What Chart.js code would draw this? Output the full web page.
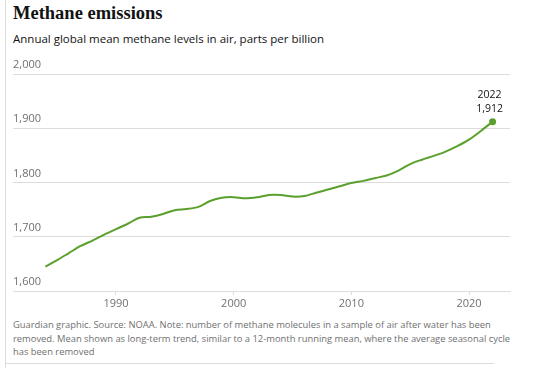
<!DOCTYPE html>
<html>
<head>
<meta charset="utf-8">
<script src="https://cdn.jsdelivr.net/npm/chart.js@4"></script>
<style>
  body { margin: 0; width: 538px; height: 368px; position: relative; background: #fff; overflow: hidden; font-family: "Open Sans", sans-serif; }
  #edge { position: absolute; left: 5px; top: 0; width: 1px; height: 368px; background: #dcdcdc; }
  #title { position: absolute; left: 13px; top: 3px; font: bold 18.5px "Liberation Serif", serif; color: #121212; }
  #sub { position: absolute; left: 13px; top: 31px; font-size: 11.5px; color: #121212; white-space: nowrap; }
  #wrap { position: absolute; left: 0; top: 55px; width: 538px; height: 260px; }
  #foot { position: absolute; left: 13px; top: 318px; font-size: 9.4px; line-height: 13.5px; color: #707070; white-space: nowrap; }
  #rule { position: absolute; left: 5px; top: 363px; width: 489px; height: 1px; background: #dcdcdc; }
</style>
</head>
<body>
<div id="edge"></div>
<div id="title">Methane emissions</div>
<div id="sub">Annual global mean methane levels in air, parts per billion</div>
<div id="wrap"><canvas id="methaneChart"></canvas></div>
<div id="foot">Guardian graphic. Source: NOAA. Note: number of methane molecules in a sample of air after water has been<br>removed. Mean shown as long-term trend, similar to a 12-month running mean, where the average seasonal cycle<br>has been removed</div>
<div id="rule"></div>
<script>
// annual means (ppb)
const years = [1984, 1985, 1986, 1987, 1988, 1989, 1990, 1991, 1992, 1993,
  1994, 1995, 1996, 1997, 1998, 1999, 2000, 2001, 2002, 2003,
  2004, 2005, 2006, 2007, 2008, 2009, 2010, 2011, 2012, 2013,
  2014, 2015, 2016, 2017, 2018, 2019, 2020, 2021, 2022];
const methane = [1645, 1657, 1670, 1683, 1693, 1704, 1714, 1724, 1735, 1737,
  1742, 1749, 1751, 1755, 1766, 1772, 1773, 1771, 1773, 1777,
  1777, 1774, 1775, 1781, 1787, 1793, 1799, 1803, 1808, 1813,
  1822, 1834, 1842, 1849, 1857, 1867, 1879, 1895, 1912];
const yTicks = [1600, 1700, 1800, 1900, 2000];
const xTicks = [1990, 2000, 2010, 2020];

const lastLabel = {
  id: 'lastLabel',
  afterDatasetsDraw(chart) {
    const meta = chart.getDatasetMeta(0);
    const pt = meta.data[meta.data.length - 1];
    const ctx = chart.ctx;
    ctx.save();
    ctx.font = '10.5px "Open Sans", sans-serif';
    ctx.fillStyle = '#121212';
    ctx.textAlign = 'center';
    ctx.textBaseline = 'middle';
    ctx.fillText(String(years[years.length - 1]), pt.x - 3, pt.y - 27);
    ctx.fillText(methane[methane.length - 1].toLocaleString('en-US'), pt.x - 3, pt.y - 13);
    ctx.restore();
  }
};

const ctx = document.getElementById('methaneChart').getContext('2d');
new Chart(ctx, {
  type: 'line',
  data: {
    datasets: [{
      data: years.map((y, i) => ({ x: y, y: methane[i] })),
      borderColor: '#5aa02c',
      backgroundColor: '#5aa02c',
      borderWidth: 2,
      tension: 0.3,
      pointRadius: c => c.dataIndex === years.length - 1 ? 2.5 : 0,
      pointHoverRadius: 0
    }]
  },
  options: {
    responsive: true,
    maintainAspectRatio: false,
    animation: false,
    layout: { padding: { top: 19, right: 28, left: 0, bottom: 0 } },
    plugins: { legend: { display: false }, tooltip: { enabled: false } },
    scales: {
      x: {
        type: 'linear',
        min: 1981.25,
        max: 2023.48,
        afterFit: s => { s.height = 24; },
        afterBuildTicks: s => { s.ticks = xTicks.map(v => ({ value: v })); },
        grid: { drawOnChartArea: false, color: '#dcdcdc', tickLength: 4 },
        border: { color: '#dcdcdc' },
        ticks: {
          color: '#707070',
          font: { size: 11, family: '"Open Sans", sans-serif' },
          padding: 2,
          callback: v => String(v)
        }
      },
      y: {
        min: 1600,
        max: 2000,
        afterFit: s => { s.width = 13; },
        afterBuildTicks: s => { s.ticks = yTicks.map(v => ({ value: v })); },
        grid: { color: '#dcdcdc', drawTicks: false },
        border: { display: false },
        ticks: {
          mirror: true,
          padding: 0,
          labelOffset: -9,
          color: '#707070',
          font: { size: 11, family: '"Open Sans", sans-serif' },
          callback: v => v.toLocaleString('en-US')
        }
      }
    }
  },
  plugins: [lastLabel]
});
</script>
</body>
</html>
